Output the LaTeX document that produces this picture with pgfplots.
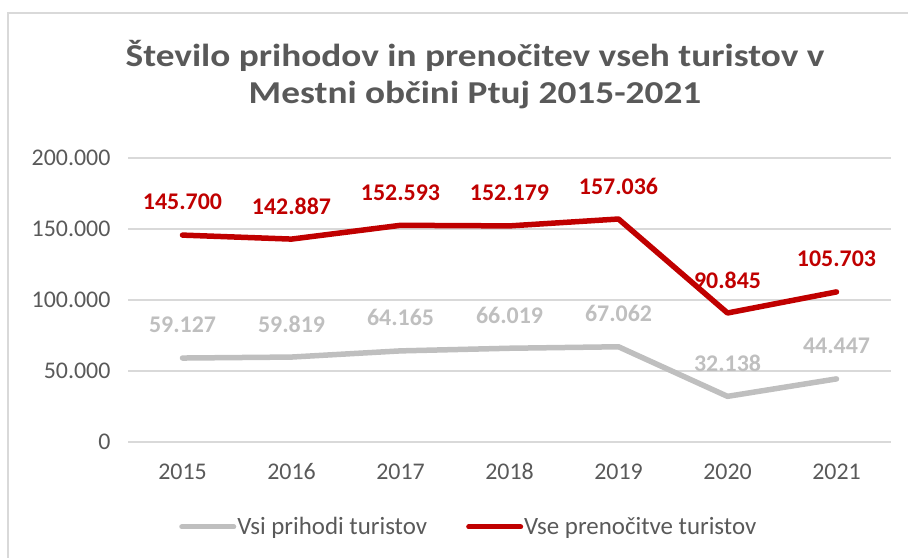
\documentclass[border=0pt]{standalone}
\usepackage{pgfplots}
\pgfplotsset{compat=1.18}
\usepackage{fontspec}
\setmainfont{Carlito}
\definecolor{tred}{HTML}{C00000}
\definecolor{tgrey}{HTML}{BFBFBF}
\definecolor{txt}{HTML}{595959}
\definecolor{gridc}{HTML}{D9D9D9}
\begin{document}
\begin{tikzpicture}
\path[use as bounding box] (0,0) rectangle (908bp,558bp);
\draw[color=gridc, line width=1.5bp] (8bp,0) -- (8bp,545bp) -- (908bp,545bp);
\node[text=txt, font=\fontsize{32}{38}\selectfont\bfseries, anchor=base, xscale=1.17, transform shape] at (475bp,491bp) {Število prihodov in prenočitev vseh turistov v};
\node[text=txt, font=\fontsize{32}{38}\selectfont\bfseries, anchor=base, xscale=1.17, transform shape] at (475bp,454bp) {Mestni občini Ptuj 2015-2021};
\begin{axis}[
  at={(128bp,116bp)}, anchor=south west,
  scale only axis, width=763bp, height=284bp,
  xmin=-0.5, xmax=6.5, ymin=0, ymax=200000,
  xtick={0,1,2,3,4,5,6},
  xticklabels={2015,2016,2017,2018,2019,2020,2021},
  ytick={0,50000,100000,150000,200000},
  scaled y ticks=false,
  /pgf/number format/.cd, fixed, precision=0, 1000 sep={.}, assume math mode=true, /pgfplots/.cd,
  axis line style={draw=none},
  major tick style={draw=none},
  ymajorgrids,
  grid style={color=gridc, line width=1.3bp},
  ticklabel style={text=txt, font=\fontsize{24}{28}\selectfont},
  yticklabel style={xshift=-14bp},
  xticklabel style={yshift=-18bp},
  clip=false,
  nodes near coords,
  every node near coord/.append style={font=\fontsize{24}{28}\selectfont\bfseries, anchor=center, yshift=33bp},
  legend columns=2,
  legend style={at={(0.446,-0.299)}, anchor=center, draw=none, fill=none,
    font=\fontsize{25}{29}\selectfont, text=txt,
    /tikz/every even column/.append style={column sep=38bp},
    nodes={inner xsep=1bp}},
  legend image code/.code={\draw[#1, line width=5bp, line cap=round] (0bp,0bp) -- (52bp,0bp);},
]
\addplot[color=tgrey, line width=5.5bp, line cap=round, line join=round, mark=none,
  every node near coord/.append style={text=tgrey}]
  coordinates {(0,59127) (1,59819) (2,64165) (3,66019) (4,67062) (5,32138) (6,44447)};
\addlegendentry{Vsi prihodi turistov}
\addplot[color=tred, line width=5.5bp, line cap=round, line join=round, mark=none,
  every node near coord/.append style={text=tred}]
  coordinates {(0,145700) (1,142887) (2,152593) (3,152179) (4,157036) (5,90845) (6,105703)};
\addlegendentry{Vse prenočitve turistov}
\end{axis}
\end{tikzpicture}
\end{document}
